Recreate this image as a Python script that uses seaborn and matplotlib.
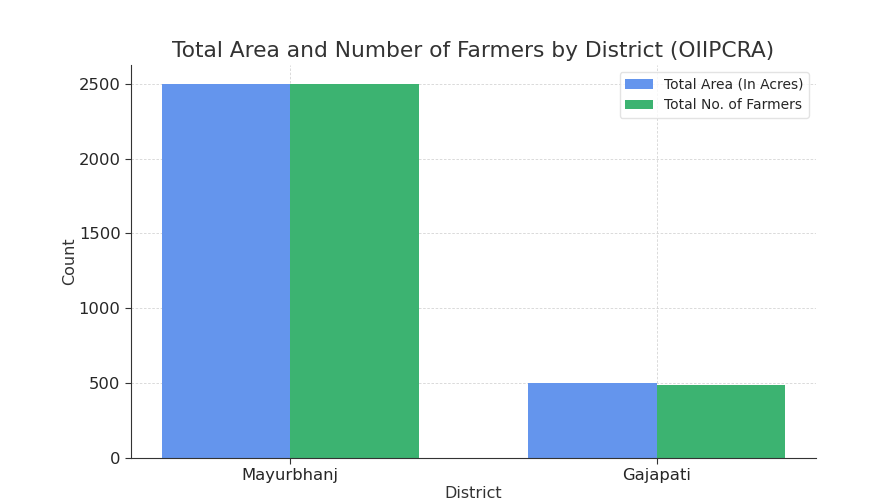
import matplotlib
matplotlib.use("Agg")
import matplotlib.pyplot as plt
import pandas as pd
import seaborn as sns

# Data
districts = ["Mayurbhanj", "Gajapati"]
total_area = [2500, 500]
total_farmers = [2500, 490]

df = pd.DataFrame({
    "District": districts * 2,
    "Count": total_area + total_farmers,
    "Metric": ["Total Area (In Acres)"] * 2 + ["Total No. of Farmers"] * 2,
})

sns.set_style("white")
plt.rcParams['font.family'] = ['DejaVu Sans']

fig = plt.figure(figsize=(8.76, 5), dpi=100)
ax = fig.add_axes([0.1495, 0.084, 0.782, 0.786])

sns.barplot(data=df, x="District", y="Count", hue="Metric",
            palette=["#6495ED", "#3CB371"], width=0.7, saturation=1,
            linewidth=0, ax=ax)

ax.set_xlim(-0.435, 1.435)
ax.set_ylim(0, 2625)
ax.grid(True, linestyle=(0, (3, 2)), linewidth=0.6, color="#d4d4d4")
ax.set_axisbelow(True)
sns.despine(ax=ax)
for side in ["left", "bottom"]:
    ax.spines[side].set_color("#333333")
ax.tick_params(axis="both", labelsize=11.8, length=4, color="#333333",
               left=True, bottom=True)

ax.set_title("Total Area and Number of Farmers by District (OIIPCRA)", fontsize=15.7, color="#333333")
ax.set_xlabel("District", fontsize=11.5, color="#333333", labelpad=2)
ax.set_ylabel("Count", fontsize=11.5, color="#333333", labelpad=1)
ax.legend(title=None, fontsize=10, loc="upper right", edgecolor="#dddddd")

fig.savefig("out.png", dpi=100)
